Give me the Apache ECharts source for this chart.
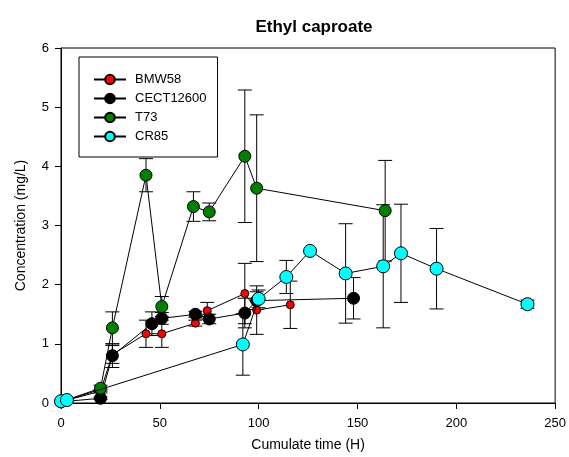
<!DOCTYPE html>
<html>
<head>
<meta charset="utf-8">
<script src="https://cdn.jsdelivr.net/npm/echarts@6/dist/echarts.min.js"></script>
<style>
  html, body { margin: 0; padding: 0; background: #fff; }
  #mydiv { width: 569px; height: 457px; }
</style>
</head>
<body>
<div id="mydiv"></div>
<script>
// 数据
var seriesNames = ['BMW58', 'CECT12600', 'T73', 'CR85'];

var bmwX = [0, 20, 26, 43, 51, 68, 74, 93, 99, 116];
var bmwY = [0.02, 0.2, 0.82, 1.17, 1.17, 1.35, 1.56, 1.85, 1.57, 1.66];
var bmwErr = [0, 0.03, 0.15, 0.23, 0.23, 0.05, 0.14, 0.51, 0.41, 0.40];

var cectX = [0, 20, 26, 46, 51, 68, 75, 93, 99, 148];
var cectY = [0.02, 0.08, 0.80, 1.34, 1.43, 1.50, 1.42, 1.52, 1.73, 1.77];
var cectErr = [0, 0.02, 0.20, 0.20, 0.10, 0.05, 0.08, 0.25, 0.15, 0.35];

var t73X = [0, 20, 26, 43, 51, 67, 75, 93, 99, 164];
var t73Y = [0.02, 0.25, 1.27, 3.85, 1.63, 3.32, 3.23, 4.17, 3.63, 3.25];
var t73Err = [0, 0.05, 0.27, 0.28, 0.17, 0.25, 0.15, 1.12, 1.24, 0.85];

var cr85X = [0, 3, 92, 100, 114, 126, 144, 163, 172, 190, 236];
var cr85Y = [0.03, 0.05, 0.99, 1.76, 2.13, 2.57, 2.19, 2.31, 2.53, 2.27, 1.67];
var cr85Err = [0, 0, 0.52, 0.15, 0.28, 0, 0.84, 1.04, 0.83, 0.68, 0.07];

var xTicks = [0, 50, 100, 150, 200, 250];
var yTicks = [0, 1, 2, 3, 4, 5, 6];

var echart = echarts.init(document.getElementById('mydiv'));

function pts(xs, ys) {
    return xs.map(function (x, i) { return [x, ys[i]]; });
}
function errs(xs, ys, es) {
    return xs.map(function (x, i) { return [x, ys[i] - es[i], ys[i] + es[i]]; });
}

// 误差线
function renderErr(params, api) {
    var x = api.value(0), lo = api.value(1), hi = api.value(2);
    if (hi - lo <= 0) return null;
    var top = api.coord([x, hi]);
    var bot = api.coord([x, lo]);
    var w = 7;
    var st = { stroke: '#000', lineWidth: 1 };
    return {
        type: 'group',
        children: [
            { type: 'line', shape: { x1: top[0], y1: top[1], x2: bot[0], y2: bot[1] }, style: st },
            { type: 'line', shape: { x1: top[0] - w, y1: top[1], x2: top[0] + w, y2: top[1] }, style: st },
            { type: 'line', shape: { x1: bot[0] - w, y1: bot[1], x2: bot[0] + w, y2: bot[1] }, style: st }
        ]
    };
}

function errSeries(data) {
    return {
        type: 'custom',
        renderItem: renderErr,
        data: data,
        encode: { x: 0, y: [1, 2] },
        z: 1,
        silent: true
    };
}

function lineSeries(name, data, color, size, z) {
    return {
        name: name,
        type: 'line',
        data: data,
        symbol: 'circle',
        symbolSize: size,
        showAllSymbol: true,
        lineStyle: { color: '#000', width: 1 },
        itemStyle: { color: color, borderColor: '#000', borderWidth: 1 },
        z: z
    };
}

var axisTxt = { color: '#000', fontFamily: 'Liberation Sans, Arial', fontSize: 13 };

var option = {
    animation: false,
    title: {
        text: 'Ethyl caproate',
        left: 309,
        textAlign: 'center',
        top: 14,
        textStyle: { fontFamily: 'Liberation Sans, Arial', fontSize: 17, fontWeight: 'bold', color: '#000' }
    },
    grid: {
        left: 61, right: 12, top: 48, bottom: 50,
        show: true, borderColor: '#000', borderWidth: 1
    },
    legend: {
        data: seriesNames,
        orient: 'vertical',
        left: 79,
        top: 57,
        padding: [16, 11, 14, 14],
        itemWidth: 32,
        itemHeight: 12,
        itemGap: 6,
        borderColor: '#000',
        borderWidth: 1,
        textStyle: { color: '#000', fontFamily: 'Liberation Sans, Arial', fontSize: 13, padding: [0, 0, 0, 4] }
    },
    xAxis: {
        type: 'value',
        min: 0, max: 250, interval: 50,
        name: 'Cumulate time (H)',
        nameLocation: 'middle',
        nameGap: 35,
        nameTextStyle: { color: '#000', fontFamily: 'Liberation Sans, Arial', fontSize: 14 },
        axisLine: { show: true, lineStyle: { color: '#000' } },
        axisTick: { show: true, inside: false, length: 6, lineStyle: { color: '#000' } },
        axisLabel: Object.assign({ margin: 14 }, axisTxt),
        splitLine: { show: false }
    },
    yAxis: {
        type: 'value',
        min: 0, max: 6, interval: 1,
        name: 'Concentration (mg/L)',
        nameLocation: 'middle',
        nameGap: 33,
        nameTextStyle: { color: '#000', fontFamily: 'Liberation Sans, Arial', fontSize: 14 },
        axisLine: { show: true, lineStyle: { color: '#000' } },
        axisTick: { show: true, inside: false, length: 6, lineStyle: { color: '#000' } },
        axisLabel: Object.assign({ margin: 12 }, axisTxt),
        splitLine: { show: false }
    },
    series: [
        errSeries(errs(bmwX, bmwY, bmwErr)),
        errSeries(errs(cectX, cectY, cectErr)),
        errSeries(errs(t73X, t73Y, t73Err)),
        errSeries(errs(cr85X, cr85Y, cr85Err)),
        lineSeries('BMW58', pts(bmwX, bmwY), '#ff0000', 8, 2),
        lineSeries('CECT12600', pts(cectX, cectY), '#000000', 12, 3),
        lineSeries('T73', pts(t73X, t73Y), '#008000', 12, 4),
        lineSeries('CR85', pts(cr85X, cr85Y), '#00ffff', 13, 5)
    ]
};

echart.setOption(option);
</script>
</body>
</html>
